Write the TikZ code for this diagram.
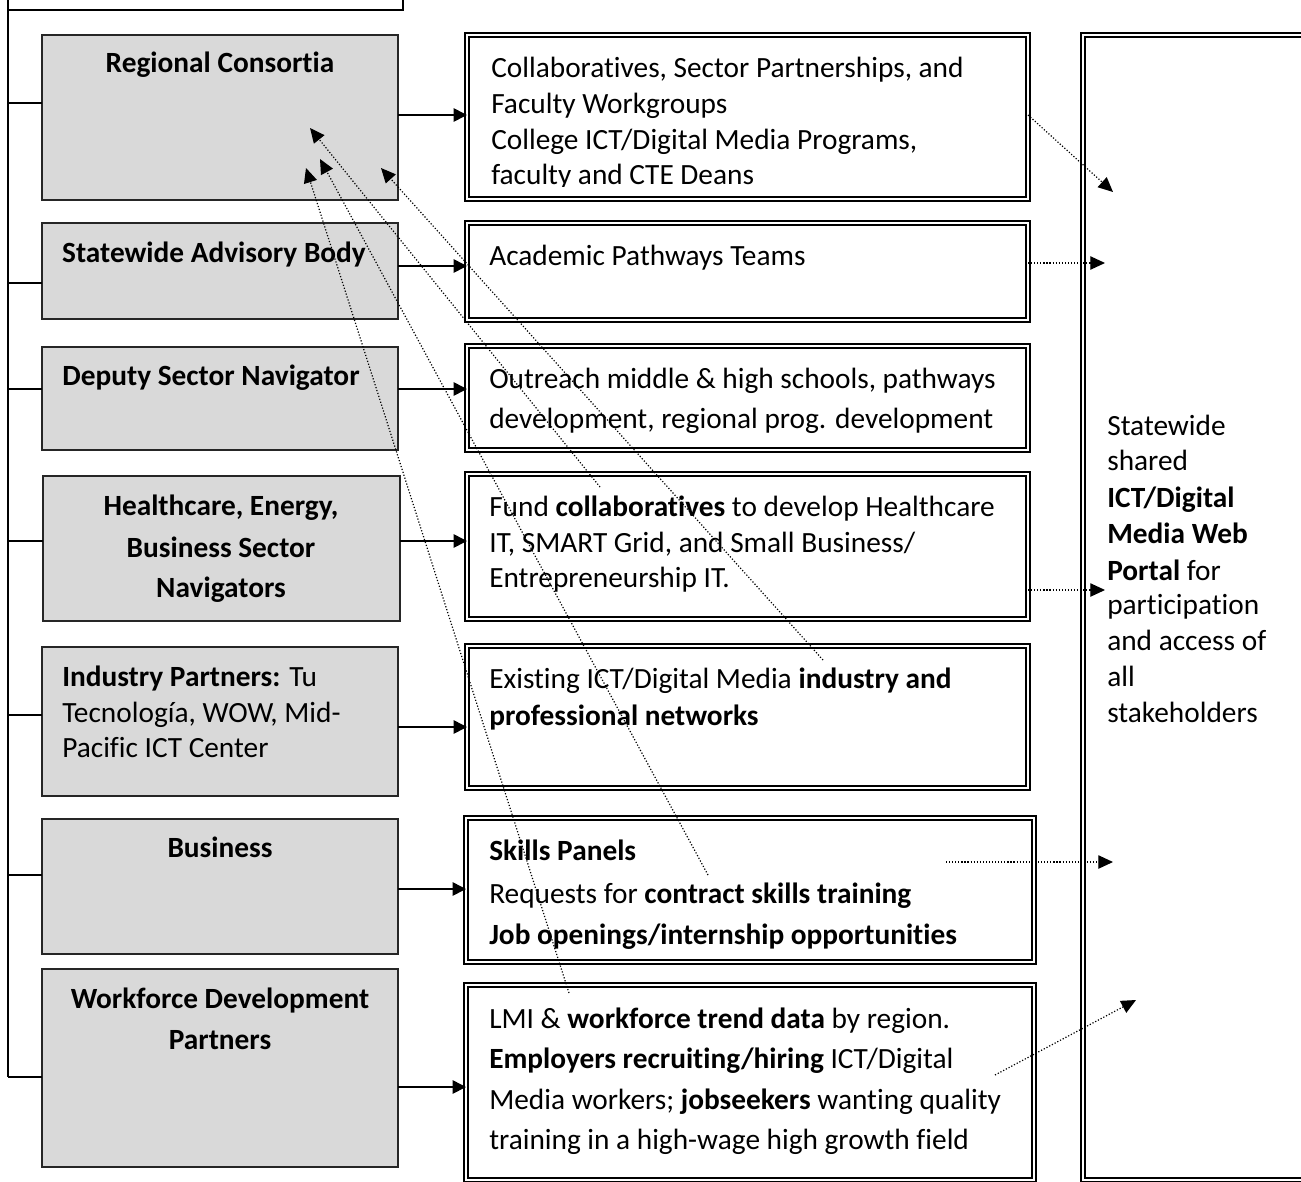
\documentclass[tikz,border=0pt]{standalone}
\usepackage{fontspec}
\setmainfont{Carlito}[Ligatures={NoCommon}]
\usetikzlibrary{arrows.meta}
\definecolor{boxgray}{HTML}{D9D9D9}
\newcommand\txtline[4]{\node[txt] (#1) at (#2,#3) {#4};}
\newcommand\ctrline[4]{\node[ctxt] (#1) at (#2,#3) {#4};}
\begin{document}
\begin{tikzpicture}[x=0.75pt,y=-0.75pt,font=\fontsize{22}{26}\selectfont,
  gbox/.style={draw=black!85, fill=boxgray, line width=1.1pt, anchor=north west, inner sep=0pt, outer sep=0pt},
  mbox/.style={draw=black, double=white, double distance=1.5pt, line width=1.6pt, anchor=north west, inner sep=0pt, outer sep=0pt},
  txt/.style={inner sep=0pt, anchor=base west},
  ctxt/.style={inner sep=0pt, anchor=base},
  bus/.style={line width=1.2pt},
  arr/.style={line width=1.2pt, -{Triangle[length=10pt,width=10pt]}},
  dotarr/.style={line width=0.9pt, dash pattern=on 0.9pt off 1.4pt, -{Triangle[length=11pt,width=10pt]}}]
\useasboundingbox (0,0) rectangle (1301,1181);
\clip (0,0) rectangle (1301,1181);
% top fragment and bus
\coordinate (bustop) at (8,0);
\coordinate (busbot) at (8,1077);
\coordinate (topr) at (403,0);
\coordinate (topc) at (403,10);
\draw[bus] (bustop) -- (busbot);
\draw[bus] (bustop |- topc) -- (topc) -- (topr);
% gray boxes
\node[gbox, minimum width=267pt, minimum height=123.75pt] (G1) at (42,35) {};
\node[gbox, minimum width=267pt, minimum height=72pt] (G2) at (42,223) {};
\node[gbox, minimum width=267pt, minimum height=77.25pt] (G3) at (42,347) {};
\node[gbox, minimum width=267.75pt, minimum height=108.75pt] (G4) at (43,476) {};
\node[gbox, minimum width=267pt, minimum height=111.75pt] (G5) at (42,647) {};
\node[gbox, minimum width=267pt, minimum height=101.25pt] (G6) at (42,819) {};
\node[gbox, minimum width=267pt, minimum height=148.5pt] (G7) at (42,969) {};
% middle boxes
\node[mbox, minimum width=420.75pt, minimum height=123pt] (M1) at (467,35) {};
\node[mbox, minimum width=420.75pt, minimum height=72.75pt] (M2) at (467,223) {};
\node[mbox, minimum width=420.75pt, minimum height=78pt] (M3) at (467,346) {};
\node[mbox, minimum width=420.75pt, minimum height=108.75pt] (M4) at (467,474) {};
\node[mbox, minimum width=420.75pt, minimum height=106.5pt] (M5) at (467,646) {};
\node[mbox, minimum width=426pt, minimum height=108pt] (M6) at (466,818) {};
\node[mbox, minimum width=426pt, minimum height=146.25pt] (M7) at (466,985) {};
% portal box
\node[mbox, minimum width=170.25pt, minimum height=858.75pt] (R) at (1083,35) {};
% bus branches
\draw[bus] (bustop |- 0,103) -- (G1.west |- 0,103);
\draw[bus] (bustop |- 0,283) -- (G2.west |- 0,283);
\draw[bus] (bustop |- 0,389) -- (G3.west |- 0,389);
\draw[bus] (bustop |- 0,541) -- (G4.west |- 0,541);
\draw[bus] (bustop |- 0,715) -- (G5.west |- 0,715);
\draw[bus] (bustop |- 0,875) -- (G6.west |- 0,875);
\draw[bus] (busbot) -- (G7.west |- busbot);
% solid arrows
\draw[arr] (G1.east |- 0,115) -- (M1.west |- 0,115);
\draw[arr] (G2.east |- 0,266) -- (M2.west |- 0,266);
\draw[arr] (G3.east |- 0,389) -- (M3.west |- 0,389);
\draw[arr] (G4.east |- 0,541) -- (M4.west |- 0,541);
\draw[arr] (G5.east |- 0,727) -- (M5.west |- 0,727);
\draw[arr] (G6.east |- 0,889) -- (M6.west |- 0,889);
\draw[arr] (G7.east |- 0,1087) -- (M7.west |- 0,1087);
% left box texts
\ctrline{g1t}{220}{73}{\textbf{Regional Consortia}}
\ctrline{g2t}{214}{262}{\textbf{Statewide Advisory Body}}
\ctrline{g3t}{211}{385}{\textbf{Deputy Sector Navigator}}
\ctrline{g4a}{221}{515}{\textbf{Healthcare, Energy,}}
\ctrline{g4b}{221}{557}{\textbf{Business Sector}}
\ctrline{g4c}{221}{597}{\textbf{Navigators}}
\txtline{g5a}{62}{686}{\textbf{Industry Partners:} Tu}
\txtline{g5b}{62}{722}{Tecnología, WOW, Mid-}
\txtline{g5c}{62}{757}{Pacific ICT Center}
\ctrline{g6t}{220}{857}{\textbf{Business}}
\ctrline{g7a}{220}{1008}{\textbf{Workforce Development}}
\ctrline{g7b}{220}{1049}{\textbf{Partners}}
% middle texts
\begin{scope}
\clip (467,35) rectangle (1028,186);
\txtline{m1a}{491}{77}{Collaboratives, Sector Partnerships, and}
\txtline{m1b}{491}{113}{Faculty Workgroups}
\txtline{m1c}{491}{149}{College ICT/Digital Media Programs,}
\txtline{m1d}{491}{184}{faculty and CTE Deans}
\end{scope}
\txtline{m2a}{489}{265}{Academic Pathways Teams}
\txtline{m3a}{489}{388}{Outreach middle \& high schools, pathways}
\txtline{m3b}{489}{428}{development, regional prog. development}
\txtline{m4a}{489}{516}{Fund \textbf{collaboratives} to develop Healthcare}
\txtline{m4b}{489}{552}{IT, SMART Grid, and Small Business/}
\txtline{m4c}{489}{587}{Entrepreneurship IT.}
\txtline{m5a}{489}{688}{Existing ICT/Digital Media \textbf{industry and}}
\txtline{m5b}{489}{725}{\textbf{professional networks}}
\txtline{m6a}{489}{860}{\textbf{Skills Panels}}
\txtline{m6b}{489}{903}{Requests for \textbf{contract skills training}}
\txtline{m6c}{489}{944}{\textbf{Job openings/internship opportunities}}
\txtline{m7a}{489}{1028}{LMI \& \textbf{workforce trend data} by region.}
\txtline{m7b}{489}{1068}{\textbf{Employers recruiting/hiring} ICT/Digital}
\txtline{m7c}{489}{1109}{Media workers; \textbf{jobseekers} wanting quality}
\txtline{m7d}{489}{1149}{training in a high-wage high growth field}
% portal text
\txtline{ra}{1107}{435}{Statewide}
\txtline{rb}{1107}{470}{shared}
\txtline{rc}{1107}{507}{\textbf{ICT/Digital}}
\txtline{rd}{1107}{543}{\textbf{Media Web}}
\txtline{re}{1107}{580}{\textbf{Portal} for}
\txtline{rf}{1107}{614}{participation}
\txtline{rg}{1107}{650}{and access of}
\txtline{rh}{1107}{686}{all}
\txtline{ri}{1107}{722}{stakeholders}
% dotted arrows to portal
\coordinate (p1) at (1113,192);
\coordinate (p2) at (1105,263);
\coordinate (p4) at (1105,590);
\coordinate (p6s) at (946,862);
\coordinate (p6) at (1113,862);
\coordinate (p7s) at (995,1075);
\coordinate (p7) at (1136,1000);
\draw[dotarr] (M1.east |- 0,115) -- (p1);
\draw[dotarr] (M2.east |- p2) -- (p2);
\draw[dotarr] (M4.east |- p4) -- (p4);
\draw[dotarr] (p6s) -- (p6);
\draw[dotarr] (p7s) -- (p7);
% dotted arrows into Regional Consortia
\coordinate (h1) at (310,128);
\coordinate (h2) at (320,159);
\coordinate (h3) at (306,168);
\coordinate (h4) at (381,168);
\coordinate (s1) at (600,487);
\coordinate (s2) at (708,875);
\coordinate (s3) at (569,993);
\coordinate (s4) at (823,660);
\draw[dotarr] (s1) -- (h1);
\draw[dotarr] (s2) -- (h2);
\draw[dotarr] (s3) -- (h3);
\draw[dotarr] (s4) -- (h4);
\end{tikzpicture}
\end{document}
